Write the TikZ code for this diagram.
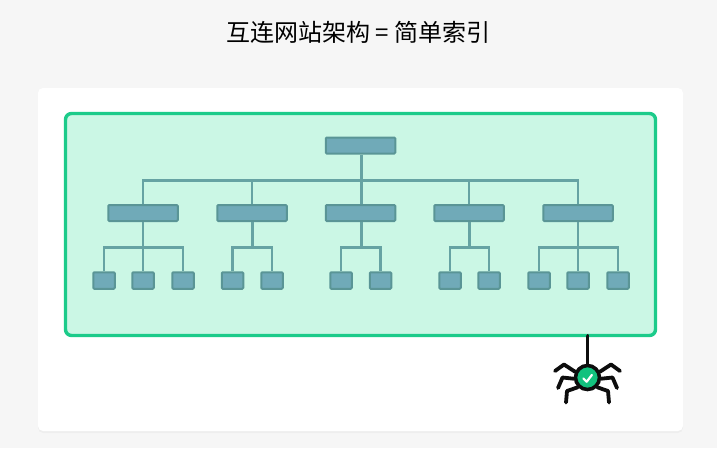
\documentclass[tikz,border=0pt]{standalone}
\usepackage{fontspec}
\newfontfamily\cjk{Noto Sans CJK SC}
\usetikzlibrary{positioning,calc,shadows}
\definecolor{pagegray}{HTML}{F6F6F6}
\definecolor{panelgreen}{HTML}{CBF7E5}
\definecolor{edgegreen}{HTML}{1CCB8A}
\definecolor{boxblue}{HTML}{70AAB8}
\definecolor{boxedge}{HTML}{5A9596}
\definecolor{linkteal}{HTML}{66A3A3}
\definecolor{spiderink}{HTML}{0D0D0D}
\definecolor{spidergreen}{HTML}{12C27E}

\begin{document}
\begin{tikzpicture}[
  x=1pt, y=-1pt,
  card/.style={draw=none, fill=white, rounded corners=5pt, minimum width=645pt, minimum height=343pt,
               drop shadow={shadow xshift=0pt, shadow yshift=-2pt, fill=black, opacity=0.03}},
  panel/.style={draw=edgegreen, fill=panelgreen, line width=3.4pt, rounded corners=6pt,
                minimum width=590pt, minimum height=222pt},
  bar/.style={draw=boxedge, fill=boxblue, line width=2pt, rounded corners=1pt, inner sep=0pt,
              minimum width=69.5pt, minimum height=16pt},
  leaf/.style={bar, minimum width=21.5pt, minimum height=16.5pt},
  link/.style={draw=linkteal, line width=2.2pt},
  leg/.style={draw=spiderink, line width=3.8pt, line cap=round, line join=round},
]
\useasboundingbox[fill=pagegray] (0,0) rectangle (717,448);

%% ---------- title and panels ----------
\node (title) at (358.5,32) {\cjk\fontsize{24}{28}\selectfont 互连网站架构 = 简单索引};
\node[card] (page) at (360.5,259.5) {};
\node[panel] (site) at (360.5,224.5) {};

%% ---------- links ----------
\coordinate (bus) at (361.5,180.5);
\coordinate (abus) at (143,247.5);
\coordinate (bbus) at (252.5,247.5);
\coordinate (cbus) at (361.5,247.5);
\coordinate (dbus) at (469.5,247.5);
\coordinate (ebus) at (578,247.5);

%% ---------- site tree ----------
\node[bar] (root) at (360.5,145.5) {};
\node[bar] (sec1) at (143,213) {};
\node[bar] (sec2) at (252,213) {};
\node[bar] (sec3) at (360.5,213) {};
\node[bar] (sec4) at (469,213) {};
\node[bar] (sec5) at (578,213) {};

\node[leaf] (a1) at (104,280.5) {};
\node[leaf] (a2) at (143,280.5) {};
\node[leaf] (a3) at (183,280.5) {};
\node[leaf] (b1) at (232.5,280.5) {};
\node[leaf] (b2) at (272,280.5) {};
\node[leaf] (c1) at (341,280.5) {};
\node[leaf] (c2) at (380.5,280.5) {};
\node[leaf] (d1) at (450,280.5) {};
\node[leaf] (d2) at (489,280.5) {};
\node[leaf] (e1) at (539,280.5) {};
\node[leaf] (e2) at (578,280.5) {};
\node[leaf] (e3) at (618,280.5) {};

\draw[link] (root.south -| bus) -- (sec3.north -| bus);
\draw[link] (sec1.north) |- (bus) -| (sec5.north);
\draw[link] (bus -| sec2.north) -- (sec2.north);
\draw[link] (bus -| sec4.north) -- (sec4.north);

\draw[link] (sec1.south) -- (a2.north);
\draw[link] (a1.north) |- (abus) -| (a3.north);
\draw[link] (sec2.south -| bbus) -- (bbus);
\draw[link] (b1.north) |- (bbus) -| (b2.north);
\draw[link] (sec3.south -| cbus) -- (cbus);
\draw[link] (c1.north) |- (cbus) -| (c2.north);
\draw[link] (sec4.south -| dbus) -- (dbus);
\draw[link] (d1.north) |- (dbus) -| (d2.north);
\draw[link] (sec5.south) -- (e2.north);
\draw[link] (e1.north) |- (ebus) -| (e3.north);

%% ---------- spider ----------
\coordinate (hook) at (587.5,336);
\node[circle, draw=spiderink, fill=spidergreen, line width=3.6pt, minimum size=24pt, inner sep=0pt] (body) at (587.5,377.5) {};
\draw[leg] (hook) -- (body.north);
\draw[leg] (body.155) -- (564,364.5) -- (555,371);
\draw[leg] (body.185) -- (562.5,377.5) -- (558,388);
\draw[leg] (body.225) -- (567,391) -- (566,402.5);
\draw[leg] (body.25) -- (611,364.5) -- (620,371);
\draw[leg] (body.355) -- (612.5,377.5) -- (617,388);
\draw[leg] (body.315) -- (608,391) -- (609,402.5);
\draw[white, line width=2.2pt, line cap=round, line join=round]
  ($(body)+(-4.2,1)$) -- ($(body)+(-0.8,4.2)$) -- ($(body)+(4.4,-2.6)$);
\end{tikzpicture}
\end{document}
